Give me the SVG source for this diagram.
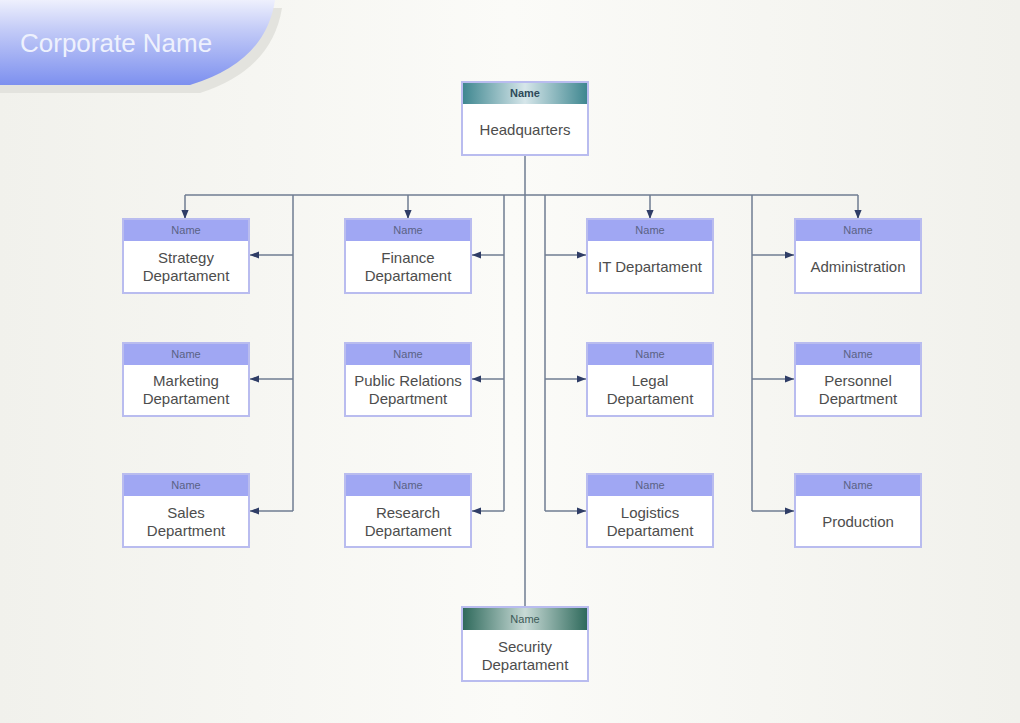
<svg xmlns="http://www.w3.org/2000/svg" width="1020" height="723" viewBox="0 0 1020 723">
<defs>
<linearGradient id="bg" x1="0" y1="0" x2="1" y2="0">
<stop offset="0" stop-color="#f1f1ec"/><stop offset="0.5" stop-color="#fbfbf8"/><stop offset="1" stop-color="#f1f1ec"/>
</linearGradient>
<linearGradient id="ban" x1="0" y1="0" x2="0" y2="1">
<stop offset="0" stop-color="#eef0fd"/><stop offset="0.35" stop-color="#c3cbf7"/><stop offset="1" stop-color="#7d90ef"/>
</linearGradient>
<linearGradient id="teal" x1="0" y1="0" x2="1" y2="0">
<stop offset="0" stop-color="#3f8790"/><stop offset="0.5" stop-color="#d6e6ea"/><stop offset="1" stop-color="#3f8790"/>
</linearGradient>
<linearGradient id="green" x1="0" y1="0" x2="1" y2="0">
<stop offset="0" stop-color="#2f6a5c"/><stop offset="0.5" stop-color="#c8dad6"/><stop offset="1" stop-color="#2f6a5c"/>
</linearGradient>
<marker id="ah" viewBox="0 0 10 10" refX="10" refY="5" markerWidth="9" markerHeight="9" markerUnits="userSpaceOnUse" orient="auto">
<path d="M0,1 L10,5 L0,9 Z" fill="#2f3d66"/>
</marker>
<style>
.box{fill:#ffffff;stroke:#b9bcef;stroke-width:2}
.hdr{fill:#a0a7f3}
.nm{font-family:"Liberation Sans",Arial,sans-serif;font-size:11px;fill:#5a6285;text-anchor:middle}
.t{font-family:"Liberation Sans",Arial,sans-serif;font-size:15px;fill:#4d4d4d;text-anchor:middle}
.c{fill:none;stroke:#6f7c92;stroke-width:1.5}
.a{marker-end:url(#ah)}
</style>
</defs>
<rect width="1020" height="723" fill="url(#bg)"/>
<g id="banner">
<path d="M0,8 L282,8 Q272,70 200,93 L0,93 Z" fill="#e3e3de"/>
<path d="M0,0 L275,0 Q266,62 190,85 L0,85 Z" fill="url(#ban)"/>
<text x="20" y="52" font-family="Liberation Sans,Arial,sans-serif" font-size="26" fill="#eef1fd">Corporate Name</text>
</g>
<g id="connectors">
<line class="c" x1="525" y1="155" x2="525" y2="607"/>
<line class="c" x1="185" y1="195" x2="858" y2="195"/>
<line class="c a" x1="185" y1="195" x2="185" y2="219"/>
<line class="c a" x1="408" y1="195" x2="408" y2="219"/>
<line class="c a" x1="650" y1="195" x2="650" y2="219"/>
<line class="c a" x1="858" y1="195" x2="858" y2="219"/>
<line class="c" x1="293" y1="195" x2="293" y2="511"/>
<line class="c" x1="504" y1="195" x2="504" y2="511"/>
<line class="c" x1="545" y1="195" x2="545" y2="511"/>
<line class="c" x1="752" y1="195" x2="752" y2="511"/>
<line class="c a" x1="293" y1="255" x2="250" y2="255"/>
<line class="c a" x1="293" y1="379" x2="250" y2="379"/>
<line class="c a" x1="293" y1="511" x2="250" y2="511"/>
<line class="c a" x1="504" y1="255" x2="472" y2="255"/>
<line class="c a" x1="504" y1="379" x2="472" y2="379"/>
<line class="c a" x1="504" y1="511" x2="472" y2="511"/>
<line class="c a" x1="545" y1="255" x2="586" y2="255"/>
<line class="c a" x1="545" y1="379" x2="586" y2="379"/>
<line class="c a" x1="545" y1="511" x2="586" y2="511"/>
<line class="c a" x1="752" y1="255" x2="794" y2="255"/>
<line class="c a" x1="752" y1="379" x2="794" y2="379"/>
<line class="c a" x1="752" y1="511" x2="794" y2="511"/>
</g>
<g id="hq">
<rect class="box" x="462" y="82" width="126" height="73"/>
<rect x="463" y="83" width="124" height="21" fill="url(#teal)"/>
<text class="nm" x="525" y="97" font-weight="bold" style="fill:#2f4a5a">Name</text>
<text class="t" x="525" y="135">Headquarters</text>
</g>
<g id="strategy">
<rect class="box" x="123" y="219" width="126" height="74"/>
<rect class="hdr" x="124" y="220" width="124" height="21"/>
<text class="nm" x="186" y="234">Name</text>
<text class="t" x="186" y="263">Strategy</text><text class="t" x="186" y="281">Departament</text>
</g>
<g id="marketing">
<rect class="box" x="123" y="343" width="126" height="73"/>
<rect class="hdr" x="124" y="344" width="124" height="21"/>
<text class="nm" x="186" y="358">Name</text>
<text class="t" x="186" y="386">Marketing</text><text class="t" x="186" y="404">Departament</text>
</g>
<g id="sales">
<rect class="box" x="123" y="474" width="126" height="73"/>
<rect class="hdr" x="124" y="475" width="124" height="21"/>
<text class="nm" x="186" y="489">Name</text>
<text class="t" x="186" y="518">Sales</text><text class="t" x="186" y="536">Department</text>
</g>
<g id="finance">
<rect class="box" x="345" y="219" width="126" height="74"/>
<rect class="hdr" x="346" y="220" width="124" height="21"/>
<text class="nm" x="408" y="234">Name</text>
<text class="t" x="408" y="263">Finance</text><text class="t" x="408" y="281">Departament</text>
</g>
<g id="pr">
<rect class="box" x="345" y="343" width="126" height="73"/>
<rect class="hdr" x="346" y="344" width="124" height="21"/>
<text class="nm" x="408" y="358">Name</text>
<text class="t" x="408" y="386">Public Relations</text><text class="t" x="408" y="404">Department</text>
</g>
<g id="research">
<rect class="box" x="345" y="474" width="126" height="73"/>
<rect class="hdr" x="346" y="475" width="124" height="21"/>
<text class="nm" x="408" y="489">Name</text>
<text class="t" x="408" y="518">Research</text><text class="t" x="408" y="536">Departament</text>
</g>
<g id="it">
<rect class="box" x="587" y="219" width="126" height="74"/>
<rect class="hdr" x="588" y="220" width="124" height="21"/>
<text class="nm" x="650" y="234">Name</text>
<text class="t" x="650" y="272">IT Departament</text>
</g>
<g id="legal">
<rect class="box" x="587" y="343" width="126" height="73"/>
<rect class="hdr" x="588" y="344" width="124" height="21"/>
<text class="nm" x="650" y="358">Name</text>
<text class="t" x="650" y="386">Legal</text><text class="t" x="650" y="404">Departament</text>
</g>
<g id="logistics">
<rect class="box" x="587" y="474" width="126" height="73"/>
<rect class="hdr" x="588" y="475" width="124" height="21"/>
<text class="nm" x="650" y="489">Name</text>
<text class="t" x="650" y="518">Logistics</text><text class="t" x="650" y="536">Departament</text>
</g>
<g id="administration">
<rect class="box" x="795" y="219" width="126" height="74"/>
<rect class="hdr" x="796" y="220" width="124" height="21"/>
<text class="nm" x="858" y="234">Name</text>
<text class="t" x="858" y="272">Administration</text>
</g>
<g id="personnel">
<rect class="box" x="795" y="343" width="126" height="73"/>
<rect class="hdr" x="796" y="344" width="124" height="21"/>
<text class="nm" x="858" y="358">Name</text>
<text class="t" x="858" y="386">Personnel</text><text class="t" x="858" y="404">Department</text>
</g>
<g id="production">
<rect class="box" x="795" y="474" width="126" height="73"/>
<rect class="hdr" x="796" y="475" width="124" height="21"/>
<text class="nm" x="858" y="489">Name</text>
<text class="t" x="858" y="527">Production</text>
</g>
<g id="security">
<rect class="box" x="462" y="607" width="126" height="74"/>
<rect x="463" y="608" width="124" height="22" fill="url(#green)"/>
<text class="nm" x="525" y="623" style="fill:#3d5a58">Name</text>
<text class="t" x="525" y="652">Security</text><text class="t" x="525" y="670">Departament</text>
</g>
</svg>
